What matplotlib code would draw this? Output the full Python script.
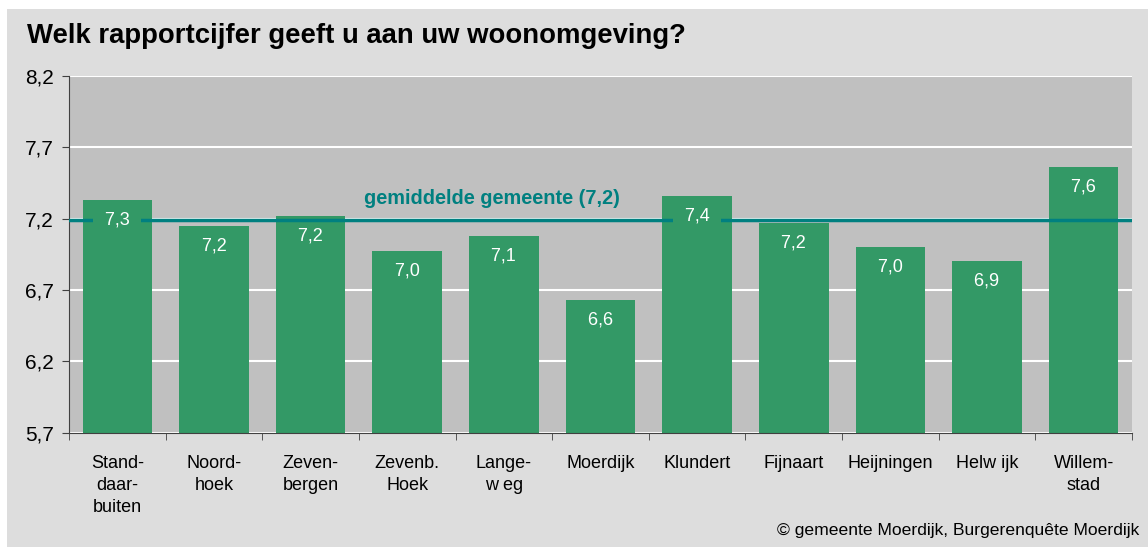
"""
Rapportcijfer woonomgeving per kern (Burgerenquete Moerdijk).
"""
import numpy as np
import matplotlib.pyplot as plt
from matplotlib.patches import Rectangle
from matplotlib.ticker import FixedLocator

plt.rcParams['font.family'] = ['Liberation Sans', 'DejaVu Sans']

kernen = ['Stand-\ndaar-\nbuiten', 'Noord-\nhoek', 'Zeven-\nbergen', 'Zevenb.\nHoek',
          'Lange-\nw eg', 'Moerdijk', 'Klundert', 'Fijnaart', 'Heijningen',
          'Helw ijk', 'Willem-\nstad']
cijfers = [7.33, 7.15, 7.22, 6.97, 7.08, 6.63, 7.36, 7.17, 7.0, 6.9, 7.56]
labels = ['7,3', '7,2', '7,2', '7,0', '7,1', '6,6', '7,4', '7,2', '7,0', '6,9', '7,6']
gemiddelde = 7.19
yticks = [5.7, 6.2, 6.7, 7.2, 7.7, 8.2]

W, H = 1148, 547
GREEN = '#339966'
TEAL = '#008080'

fig = plt.figure(figsize=(W / 100, H / 100), dpi=100)
fig.patch.set_facecolor('white')
fig.add_artist(Rectangle((7 / W, 0), 1 - 7 / W, 1 - 9 / H, transform=fig.transFigure,
                         facecolor='#dddddd', edgecolor='none', zorder=-10))

ax = fig.add_axes([69 / W, (H - 432.7) / H, (1132 - 69) / W, (432.7 - 76) / H])
ax.set_facecolor('#c0c0c0')

x = np.arange(len(kernen))
ax.bar(x, cijfers, width=0.72, color=GREEN, linewidth=0, zorder=2)
ax.axhline(gemiddelde, color=TEAL, lw=2.5, zorder=3)

# waardelabels in de balk; groene achtergrond (alleen horizontaal breed) onderbreekt de lijn
for xi, v, lab in zip(x, cijfers, labels):
    ax.annotate(f'  {lab}  ', (xi, v), xytext=(0, -20), textcoords='offset pixels',
                ha='center', va='center', color='white', fontsize=13, zorder=5,
                bbox=dict(boxstyle='square,pad=0.1', fc=GREEN, ec='none'))

ax.text(3.88, gemiddelde + 0.148, 'gemiddelde gemeente (7,2)', color=TEAL,
        fontsize=14.3, fontweight='bold', ha='center', va='center', zorder=4)

ax.set_xlim(-0.5, len(kernen) - 0.5)
ax.set_ylim(5.7, 8.2)
ax.set_yticks(yticks)
ax.set_yticklabels([f'{t:.1f}'.replace('.', ',') for t in yticks], fontsize=15)
ax.yaxis.grid(True, color='white', lw=1.5, zorder=1)
ax.set_axisbelow(True)

ax.set_xticks(x)
ax.set_xticklabels(kernen, fontsize=13, linespacing=1.38, va='top')
ax.xaxis.set_minor_locator(FixedLocator(np.arange(-0.5, len(kernen), 1.0)))
ax.tick_params(axis='x', which='major', length=0, pad=16)
ax.tick_params(axis='x', which='minor', length=5, color='#404040')
ax.tick_params(axis='y', length=5, color='#404040', pad=6)

for s in ['top', 'right']:
    ax.spines[s].set_visible(False)
for s in ['left', 'bottom']:
    ax.spines[s].set_color('#404040')

fig.text(27 / W, 1 - 43 / H, 'Welk rapportcijfer geeft u aan uw woonomgeving?',
         fontsize=19.8, fontweight='bold', ha='left', va='baseline')
fig.text(1139 / W, 1 - 530 / H, '\u00a9 gemeente Moerdijk, Burgerenqu\u00eate Moerdijk',
         fontsize=12.6, ha='right', va='center')

fig.savefig('out.png', dpi=100)
